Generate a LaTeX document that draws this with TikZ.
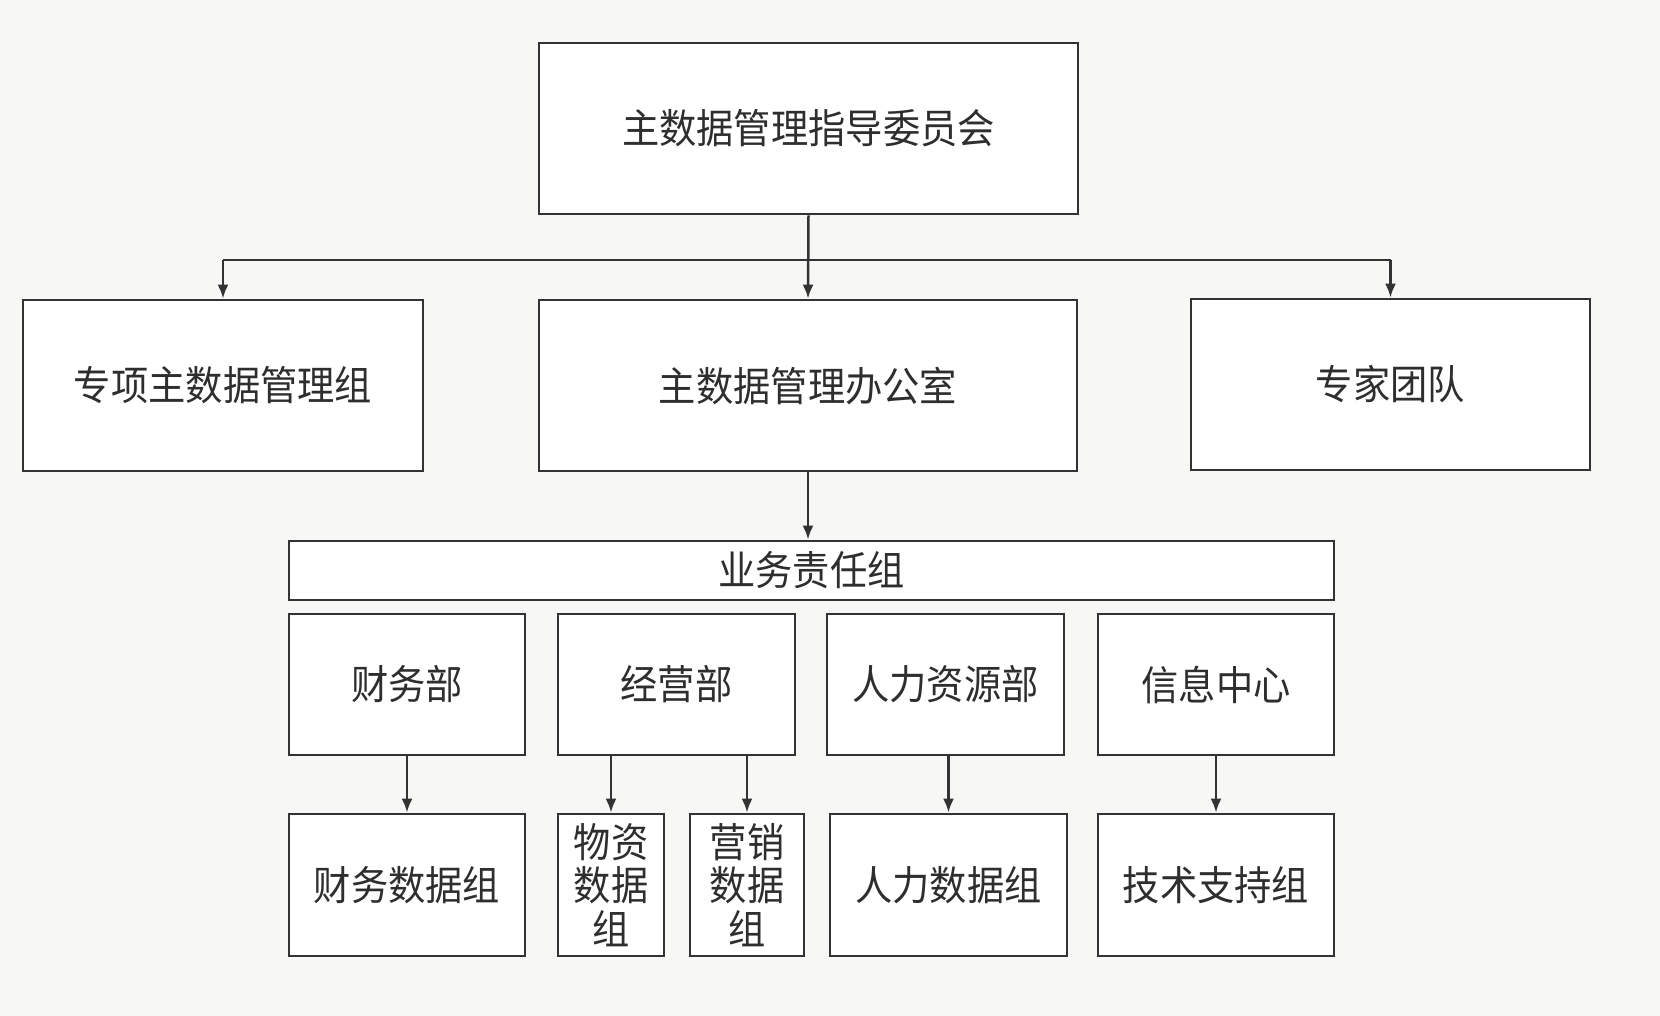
\documentclass[tikz,border=0pt]{standalone}
\usepackage{fontspec}
\setmainfont{Noto Sans CJK SC}[FakeStretch=0.92]
\usetikzlibrary{arrows.meta}
\definecolor{ln}{HTML}{333333}
\definecolor{tx}{HTML}{2E2E2E}
\definecolor{bg}{HTML}{F7F7F5}
\begin{document}
\begin{tikzpicture}[x=1pt,y=-1pt,
  box/.style={draw=ln, line width=2.8pt, fill=white, inner sep=0pt, text=tx,
    font=\fontsize{40.5}{43.5}\selectfont, align=center},
  arr/.style={draw=ln, line width=2.5pt, -{Latex[length=14pt,width=11pt]}},
  ln/.style={draw=ln, line width=2.5pt}]
\fill[bg] (0,0) rectangle (1660,1016);
\useasboundingbox (0,0) rectangle (1660,1016);
% level 1
\node[box, minimum width=539pt, minimum height=171pt] (top) at (808.5,128.5) {主数据管理指导委员会};
% level 2
\node[box, minimum width=400pt, minimum height=171pt] (L) at (223,385.5) {专项主数据管理组};
\node[box, minimum width=538pt, minimum height=171pt] (M) at (808,385.5) {主数据管理办公室};
\node[box, minimum width=399pt, minimum height=171pt] (R) at (1390.5,384.5) {专家团队};
% business group
\node[box, minimum width=1045pt, minimum height=59pt] (biz) at (811.5,570.5) {业务责任组};
% level 4
\node[box, minimum width=236pt, minimum height=141pt] (cw) at (407,684.5) {财务部};
\node[box, minimum width=237pt, minimum height=141pt] (jy) at (676.5,684.5) {经营部};
\node[box, minimum width=237pt, minimum height=141pt] (rl) at (945.5,684.5) {人力资源部};
\node[box, minimum width=236pt, minimum height=141pt] (xx) at (1216,684.5) {信息中心};
% level 5
\node[box, minimum width=236pt, minimum height=142pt] (cwd) at (407,885) {财务数据组};
\node[box, minimum width=106pt, minimum height=142pt] (wz) at (611,885) {物资\\数据\\组};
\node[box, minimum width=114pt, minimum height=142pt] (yx) at (747,885) {营销\\数据\\组};
\node[box, minimum width=237pt, minimum height=142pt] (rld) at (948.5,885) {人力数据组};
\node[box, minimum width=236pt, minimum height=142pt] (js) at (1216,885) {技术支持组};
% connectors
\coordinate (jmid) at (808,260);
\draw[arr] (top.south) -- (M.north);
\draw[ln] (L.north |- jmid) -- (R.north |- jmid);
\draw[arr] (L.north |- jmid) -- (L.north);
\draw[arr] (R.north |- jmid) -- (R.north);
\draw[arr] (M.south) -- (M.south |- biz.north);
\draw[arr] (cw.south) -- (cwd.north);
\draw[arr] (wz.north |- jy.south) -- (wz.north);
\draw[arr] (yx.north |- jy.south) -- (yx.north);
\draw[arr] (rld.north |- rl.south) -- (rld.north);
\draw[arr] (xx.south) -- (js.north);
\end{tikzpicture}
\end{document}
